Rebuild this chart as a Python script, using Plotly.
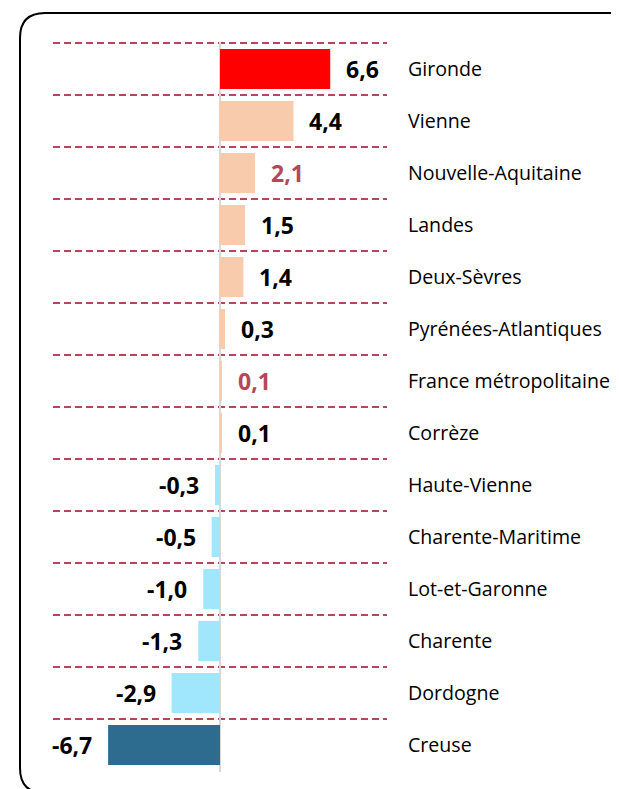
import plotly.graph_objects as go

# évolution par territoire (ordre du haut vers le bas)
territoires = ["Gironde", "Vienne", "Nouvelle-Aquitaine", "Landes", "Deux-Sèvres",
               "Pyrénées-Atlantiques", "France métropolitaine", "Corrèze", "Haute-Vienne",
               "Charente-Maritime", "Lot-et-Garonne", "Charente", "Dordogne", "Creuse"]
valeurs = [6.6, 4.4, 2.1, 1.5, 1.4, 0.3, 0.1, 0.1, -0.3, -0.5, -1.0, -1.3, -2.9, -6.7]
couleurs = ["#FF0000", "#F8CBAD", "#F8CBAD", "#F8CBAD", "#F8CBAD", "#F8CBAD", "#F8CBAD",
            "#F8CBAD", "#A0E6FD", "#A0E6FD", "#A0E6FD", "#A0E6FD", "#A0E6FD", "#2D6B8F"]
couleurs_txt = ["black", "black", "#B5475A", "black", "black", "black", "#B5475A",
                "black", "black", "black", "black", "black", "black", "black"]

W, H = 619, 789
# la page html ajoute une marge de 8px autour de la figure
ML, MR, MT, MB = 45, 240, 34, 25
pw, ph = W - ML - MR, H - MT - MB


def px(x):
    return (x - ML) / pw


def py(y):
    return 1 - (y - MT) / ph


fig = go.Figure(go.Bar(
    x=valeurs, y=territoires, orientation="h",
    marker=dict(color=couleurs, line_width=0), width=0.77,
))

for t, v, c in zip(territoires, valeurs, couleurs_txt):
    fig.add_annotation(
        x=v, y=t, text="<b>%s</b>" % ("%.1f" % v).replace(".", ","),
        showarrow=False, xanchor="left" if v >= 0 else "right",
        xshift=14 if v >= 0 else -14,
        font=dict(family="Open Sans", size=23, color=c),
    )

# cadre arrondi (coupé à droite et en bas comme dans l'original)
x0, x1, y0, y1, r = 12, 625, 5, 785, 25
chemin = ("M {a},{b} L {c},{b} Q {d},{b} {d},{e} L {d},{f} Q {d},{g} {c},{g} "
          "L {a},{g} Q {h},{g} {h},{f} L {h},{e} Q {h},{b} {a},{b} Z").format(
    a=px(x0 + r), b=py(y0), c=px(x1 - r), d=px(x1), e=py(y0 + r),
    f=py(y1 - r), g=py(y1), h=px(x0))
fig.add_shape(type="path", path=chemin, xref="paper", yref="paper",
              line=dict(color="black", width=2), fillcolor="rgba(0,0,0,0)")

n = len(territoires)
fig.update_layout(
    width=W, height=H,
    margin=dict(l=ML, r=MR, t=MT, b=MB),
    paper_bgcolor="white", plot_bgcolor="white",
    showlegend=False,
    font=dict(family="Open Sans", size=19.6, color="black"),
    xaxis=dict(range=[-10, 10], showgrid=False, showticklabels=False, automargin=False,
               zeroline=True, zerolinecolor="#D9D9D9", zerolinewidth=2),
    yaxis=dict(range=[n - 0.48, -0.52], side="right", tickson="boundaries",
               showgrid=True, gridcolor="#B5475A", gridwidth=2, griddash="7px,4px",
               ticks="", ticklabelstandoff=20, showline=False, zeroline=False,
               automargin=False),
)

fig.write_html("out.html")
